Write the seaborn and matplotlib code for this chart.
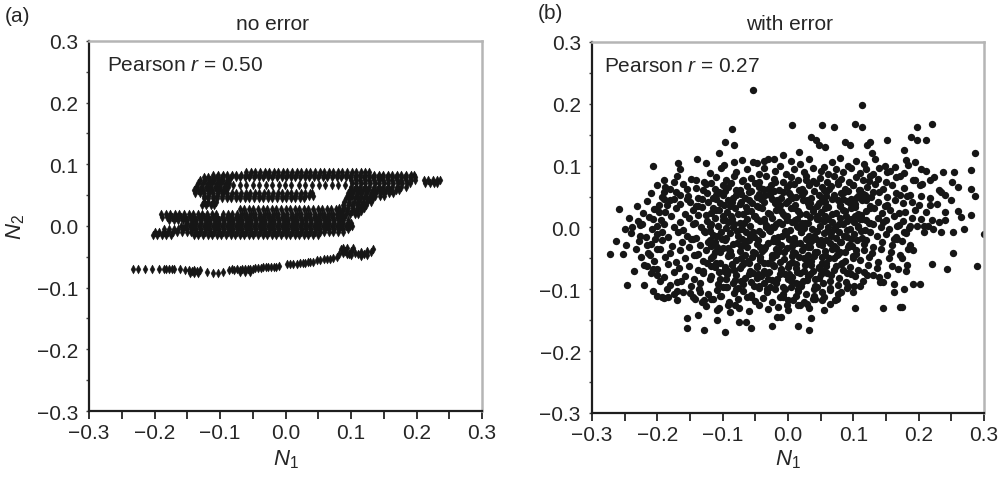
import matplotlib
matplotlib.use("Agg")
import matplotlib.pyplot as plt
import seaborn as sns
import pandas as pd
from matplotlib.ticker import FixedLocator

# ---------------- data (values in thousandths) ----------------
# Panel (a): rows of points (y, [x ...])
A_UPPER_ROWS = [
    (88, [-60, -53, -46, -39, -32, -25, -18, -11, -4, 3, 10, 17, 24, 31, 38, 45, 52, 59, 66, 73, 80, 87, 94, 101, 108, 115, 122, 127]),
    (83, [-110, -103, -96, -89, -82, -75, -68, -61, -54, -47, -40, -33, -26, -19, -12, -5, 2, 9, 16, 23, 30, 37, 44, 51, 58, 65, 72, 79, 86, 93, 100, 107, 114, 121, 128, 135, 142, 149, 156, 163, 170, 177, 184, 191, 196]),
    (79, [-125, -118, -111, -104, -97, -90, -83, -76, -69, -62, -55, -48, -41, -34, -27, -20, -13, -6, 1, 8, 15, 22, 29, 36, 43, 50, 57, 64, 71, 78, 85, 92, 99, 106, 113, 120, 127, 134, 141, 148, 155, 162, 169, 176, 183, 190, 197]),
    (74, [-130, -123, -116, -109, -102, -95, -88, 100, 107, 114, 121, 128, 135, 142, 149, 156, 163, 170, 177, 184, 191, 198, 211, 218, 225, 232, 236]),
    (69, [-133, -126, -119, -112, -105, -98, -91, -86, 101, 108, 115, 122, 129, 136, 143, 150, 157, 164, 171, 178, 185, 190, 213, 220, 227, 232]),
    (66, [-80, -70, -61, -50, -41, -30, -21, -10, -1, 9, 20, 29, 40, 51, 60, 71, 80, 91]),
    (64, [-136, -129, -122, -115, -108, -101, -94, -88, 100, 107, 114, 121, 128, 135, 142, 149, 156, 163, 170, 177, 184]),
    (59, [-140, -133, -126, -119, -112, -105, -98, -91, 98, 105, 112, 119, 126, 133, 140, 147, 154, 161, 168, 174]),
    (54, [-138, -131, -124, -117, -110, -103, -96, -89, -82, -75, -68, -61, -54, -47, -40, -33, -26, -19, -12, -5, 2, 9, 16, 23, 30, 37, 41, 95, 102, 109, 116, 123, 130, 137, 144, 151, 158, 164]),
    (49, [-125, -118, -111, -104, -97, -90, -83, -76, -69, -62, -55, -48, -41, -34, -27, -20, -13, -6, 1, 8, 15, 22, 29, 36, 42, 95, 102, 109, 116, 123, 130, 137, 144, 150]),
    (45, [-125, -118, -111, -104, -97, -90, -83, -76, -69, -62, -55, -48, -41, -34, -27, -20, -13, -6, 1, 8, 15, 22, 28, 92, 99, 106, 113, 120, 127, 134]),
    (39, [-125, -118, -111, -106, 90, 97, 104, 111, 118, 125, 130]),
    (34, [-128, -121, -114, -109, 88, 95, 102, 109, 116, 123]),
    (29, [82, 89, 96, 103, 110, 117, 120]),
    (24, [80, 87, 94, 101, 108, 115]),
    (19, [78, 85, 92, 99, 106, 110]),
]

A_MIDDLE_ROWS = [
    (27, [-70, -63, -56, -49, -42, -35, -28, -21, -14, -7, 0, 7, 14, 21, 28, 35, 42, 49, 56, 63, 70, 77]),
    (20, [-190, -183, -176, -169, -162, -155, -148, -141, -134, -127, -120, -113, -106, -95, -88, -81, -74, -67, -60, -53, -46, -39, -32, -25, -18, -11, -4, 3, 10, 17, 24, 31, 38, 45, 52, 59, 66, 73, 80, 85]),
    (15, [-188, -181, -174, -167, -160, -153, -146, -139, -132, -125, -118, -111, -104, -97, -90, -83, -76, -69, -62, -55, -48, -41, -34, -27, -20, -13, -6, 1, 8, 15, 22, 29, 36, 43, 50, 57, 64, 71, 78, 85, 90]),
    (10, [-178, -171, -164, -157, -150, -143, -136, -129, -122, -115, -108, -101, -94, -87, -80, -73, -66, -59, -52, -45, -38, -31, -24, -17, -10, -3, 4, 11, 18, 25, 32, 39, 46, 53, 60, 67, 74, 81, 88, 95]),
    (5, [-150, -143, -136, -129, -122, -115, -108, -101, -94, -87, -80, -73, -66, -59, -52, -45, -38, -31, -24, -17, -10, -3, 4, 11, 18, 25, 32, 39, 46, 53, 60, 67, 74, 81, 88, 95, 100]),
    (0, [-160, -153, -146, -139, -132, -125, -118, -111, -104, -97, -90, -83, -76, -69, -62, -55, -48, -41, -34, -27, -20, -13, -6, 1, 8, 15, 22, 29, 36, 43, 50, 57, 64, 71, 78, 85, 92, 99, 102]),
    (-5, [-185, -178, -171, -164, -157, -150, -143, -136, -129, -122, -115, -108, -101, -94, -87, -80, -73, -66, -59, -52, -45, -38, -31, -24, -17, -10, -3, 4, 11, 18, 25, 32, 39, 46, 53, 60, 67, 74, 81, 88, 95]),
    (-10, [-200, -193, -186, -179, -172, -165, -158, -151, -144, -137, -130, -123, -116, -109, -102, -95, -88, -81, -74, -67, -60, -53, -46, -39, -32, -25, -18, -11, -4, 3, 10, 17, 24, 31, 38, 45, 52, 59, 66, 73, 80, 88]),
    (-15, [-203, -196, -189, -182, -175, -140, -133, -126, -119, -112, -105, -98, -91, -84, -77, -70, -63, -56, -49, -42, -35, -28, -21, -14, -7, 0, 7, 14, 21, 28, 35, 42, 50]),
]

A_LOWER_POINTS = [
    (-233, -69), (-225, -69), (-214, -70), (-204, -69), (-193, -70), (-186, -69), (-182, -70), (-178, -69),
    (-174, -70), (-170, -69), (-161, -70), (-154, -71), (-147, -72), (-143, -73), (-139, -72), (-135, -73),
    (-131, -72), (-146, -77), (-140, -77), (-134, -77), (-120, -75), (-111, -76), (-103, -76), (-95, -75),
    (-86, -71), (-82, -70), (-78, -71), (-74, -70), (-70, -71), (-66, -70), (-62, -70), (-58, -70), (-54, -69),
    (-50, -70), (-46, -68), (-42, -68), (-38, -68), (-34, -67), (-30, -67), (-26, -67), (-22, -66), (-18, -66),
    (-14, -66), (-10, -65), (-70, -75), (-62, -74), (-54, -74), (2, -62), (7, -62), (12, -62), (17, -61),
    (22, -60), (26, -60), (30, -60), (34, -59), (38, -59), (42, -59), (48, -55), (53, -55), (58, -54), (63, -54),
    (68, -53), (73, -52), (78, -51), (82, -45), (85, -38), (88, -35), (91, -40), (94, -36), (97, -45), (100, -40),
    (103, -36), (106, -44), (110, -46), (115, -42), (120, -46), (125, -40), (130, -42), (134, -38), (88, -44),
    (94, -46), (100, -47), (115, -48), (125, -47),
]

# Panel (b): scattered points (x, y)
B_OUTLIERS = [
    (-54, 223), (114, 198), (7, 165), (52, 165), (70, 162), (103, 167), (114, 162), (221, 167), (197, 162),
    (-86, 159), (-82, 133), (-97, 138), (-105, 120), (-206, 99), (-169, 104), (-139, 110), (151, 141), (188, 146),
    (198, 141), (212, 141), (178, 125), (181, 109), (287, 120), (280, 93), (254, 90), (238, 90), (211, 92),
    (280, 62), (287, 51), (251, 73), (235, 57), (250, 44), (280, 20), (300, -10), (253, -42), (290, -62),
    (244, -67), (221, -59), (241, 25), (252, -7), (235, -7), (221, 12), (217, 36), (-273, -43), (-258, 30),
    (-263, -22), (-253, -43), (-243, 15), (-238, 0), (-231, 35), (-236, -70), (-246, -93), (-221, -93),
    (-226, -13), (-224, 6), (-154, -146), (-154, -162), (-129, -166), (-97, -169), (-57, -163), (-24, -159),
    (15, -160), (32, -165), (35, -146), (-75, -153), (-64, -153), (-17, -144), (-11, -144), (-108, -150),
    (-138, -141), (146, -131), (171, -129), (175, -129), (102, -131), (202, -92), (192, -91), (178, -100),
    (163, -92), (162, -105), (146, -88), (181, -71), (187, -29), (192, -37), (162, -18), (187, 3), (197, 3), (208, 3),
]

B_EDGE = [
    (87, 138), (95, 133), (121, 133), (126, 138), (129, 120), (36, 146), (43, 141), (48, 133), (57, 130),
    (17, 122), (-8, 118), (-22, 111), (-37, 107), (-53, 106), (-82, 106), (-126, 104), (-141, 76), (-155, 63),
    (-175, 74), (-188, 66), (-190, 57), (151, 90), (164, 98), (172, 84), (184, 101), (194, 106), (204, 95),
    (192, 76), (202, 68), (217, 76), (172, 52), (187, 52), (203, 51), (217, 47), (200, 36), (212, 25), (204, 14),
    (179, 25), (167, 3), (177, -7), (208, -7), (222, -2), (232, 9), (167, -18), (184, -34), (174, -50),
    (183, -61), (168, -67), (151, -77), (141, -88), (131, -77), (121, -77), (110, -94), (100, -104), (92, -94),
    (82, -104), (75, -115), (64, -123), (52, -118), (41, -115), (29, -123), (19, -126), (8, -118), (-2, -126),
    (-81, -126), (-88, -137), (-106, -131), (-114, -115), (-129, -118), (-142, -115), (-134, -104), (-160, -104),
    (-170, -102), (-175, -107), (-183, -113), (-193, -113), (-200, -110), (-206, -102), (-170, -88), (-200, -77),
    (-206, -67), (-216, -62), (-211, -45), (-200, -34), (-216, -29), (-203, -18), (-193, -7), (-200, 3),
    (-206, 14), (-198, 25), (-202, 30), (-185, 36), (-190, 46), (-175, 46), (-165, 52), (-155, 46),
]

B_CORE_TOP = [
    (-98, 101), (-71, 109), (-47, 104), (-30, 111), (-12, 99), (5, 107), (19, 102), (33, 110), (55, 98), (68, 106),
    (80, 112), (92, 100), (104, 108), (117, 103), (133, 110), (148, 99),
    (-165, 95), (-120, 88), (-102, 96), (-80, 90), (-62, 94), (-44, 87), (-36, 97), (-20, 91), (-3, 86), (10, 95),
    (24, 89), (38, 97), (50, 92), (62, 86), (73, 95), (85, 90), (97, 97), (110, 88), (120, 94), (131, 87),
    (140, 96), (157, 91), (178, 88),
    (-190, 76), (-170, 83), (-148, 79), (-128, 74), (-110, 82), (-95, 77), (-83, 84), (-70, 75), (-57, 80),
    (-45, 73), (-33, 83), (-21, 78), (-8, 74), (4, 82), (15, 77), (27, 84), (38, 75), (49, 80), (60, 73), (71, 83),
    (82, 78), (93, 74), (104, 82), (115, 76), (126, 84), (138, 79), (150, 73), (166, 81), (195, 77), (224, 82),
    (-200, 69), (-180, 63), (-160, 70), (-140, 64), (-126, 71), (-112, 62), (-99, 68), (-87, 72), (-74, 61),
    (-62, 67), (-50, 72), (-38, 63), (-26, 69), (-14, 60), (-2, 66), (10, 71), (21, 62), (32, 68), (43, 72),
    (55, 61), (66, 67), (77, 71), (88, 63), (99, 69), (110, 60), (121, 66), (133, 71), (146, 62), (160, 68),
    (178, 64), (206, 70), (231, 61), (260, 66),
    (-210, 55), (-192, 49), (-172, 57), (-153, 51), (-137, 48), (-124, 56), (-110, 52), (-97, 59), (-84, 47),
    (-72, 54), (-59, 58), (-47, 49), (-35, 53), (-22, 59), (-10, 48), (1, 55), (13, 50), (24, 58), (35, 47),
    (47, 53), (58, 57), (70, 49), (81, 55), (92, 59), (104, 48), (115, 54), (127, 50), (139, 57), (152, 49),
    (166, 55), (182, 51), (240, 53),
    (-216, 43), (-198, 37), (-180, 44), (-165, 38), (-150, 42), (-137, 35), (-123, 41), (-110, 46), (-98, 36),
    (-85, 42), (-73, 38), (-60, 45), (-48, 35), (-36, 41), (-24, 46), (-12, 37), (0, 43), (11, 36), (23, 44),
    (34, 39), (45, 35), (57, 42), (68, 46), (80, 37), (91, 43), (102, 38), (114, 45), (126, 35), (138, 41),
    (151, 37), (164, 44), (176, 39), (190, 42), (228, 38),
]

B_CORE_MID = [
    (-222, 24), (-205, 30), (-188, 25), (-172, 32), (-158, 22), (-145, 28), (-131, 33), (-118, 23), (-106, 29),
    (-93, 25), (-81, 32), (-68, 22), (-56, 27), (-44, 33), (-31, 24), (-19, 29), (-7, 21), (5, 31), (16, 26),
    (28, 22), (39, 30), (51, 25), (62, 33), (74, 23), (85, 28), (97, 32), (108, 22), (120, 27), (132, 31),
    (144, 24), (157, 29), (170, 23), (195, 28), (260, 26),
    (-230, 11), (-212, 17), (-195, 12), (-179, 18), (-165, 9), (-151, 15), (-137, 20), (-124, 10), (-112, 16),
    (-99, 12), (-87, 19), (-74, 8), (-62, 14), (-50, 19), (-37, 11), (-25, 16), (-13, 9), (-1, 18), (11, 12),
    (22, 8), (34, 17), (45, 13), (57, 19), (68, 9), (80, 15), (91, 11), (103, 18), (114, 13), (126, 8), (138, 16),
    (150, 12), (163, 19), (176, 10), (190, 15), (240, 12), (265, 17),
    (-250, -2), (-226, 4), (-208, -3), (-190, 5), (-175, 0), (-160, -4), (-146, 6), (-133, 1), (-120, -5),
    (-107, 3), (-95, -1), (-82, 6), (-70, -3), (-58, 2), (-45, -6), (-33, 4), (-21, 0), (-9, 6), (3, -4), (14, 2),
    (26, 7), (37, -2), (49, 3), (60, -5), (72, 1), (84, 6), (95, -3), (107, 2), (118, -4), (130, 5), (142, 0),
    (155, -3), (170, 4), (185, -1), (215, 2), (270, -2),
    (-240, -9), (-218, -15), (-200, -10), (-183, -16), (-168, -8), (-154, -13), (-140, -17), (-127, -7),
    (-114, -12), (-101, -18), (-89, -9), (-76, -14), (-64, -7), (-52, -16), (-40, -11), (-27, -6), (-15, -15),
    (-3, -10), (9, -17), (20, -8), (32, -13), (43, -18), (55, -9), (66, -14), (78, -7), (90, -15), (101, -11),
    (113, -17), (125, -8), (137, -13), (150, -10), (165, -16), (180, -9),
    (-248, -28), (-228, -22), (-210, -27), (-193, -21), (-177, -30), (-162, -24), (-148, -19), (-135, -29),
    (-122, -23), (-109, -31), (-97, -20), (-84, -26), (-72, -30), (-60, -21), (-47, -27), (-35, -32), (-23, -22),
    (-11, -28), (1, -19), (12, -25), (24, -31), (35, -22), (47, -27), (58, -20), (70, -30), (82, -24), (93, -29),
    (105, -21), (117, -26), (130, -31), (144, -23), (160, -28), (175, -22),
]

B_CORE_LOW = [
    (-232, -35), (-214, -41), (-196, -34), (-180, -42), (-165, -37), (-151, -32), (-138, -43), (-125, -36),
    (-112, -40), (-99, -33), (-87, -44), (-74, -38), (-62, -32), (-50, -41), (-37, -35), (-25, -44), (-13, -38),
    (-1, -33), (11, -42), (22, -36), (34, -31), (45, -40), (57, -44), (68, -35), (80, -39), (92, -32), (104, -43),
    (116, -37), (128, -41), (142, -34), (158, -39), (172, -44),
    (-225, -48), (-205, -54), (-188, -47), (-172, -56), (-158, -50), (-144, -45), (-130, -55), (-117, -49),
    (-104, -57), (-92, -46), (-79, -52), (-67, -58), (-55, -47), (-42, -53), (-30, -57), (-18, -45), (-6, -51),
    (6, -56), (17, -48), (29, -54), (40, -46), (52, -57), (63, -50), (75, -45), (87, -55), (99, -49), (111, -53),
    (124, -47), (138, -56), (155, -50),
    (-220, -61), (-200, -67), (-183, -59), (-167, -66), (-152, -62), (-138, -69), (-124, -58), (-111, -64),
    (-98, -70), (-85, -60), (-73, -66), (-60, -58), (-48, -63), (-36, -70), (-23, -61), (-11, -67), (1, -59),
    (13, -65), (24, -70), (36, -60), (47, -66), (59, -62), (71, -69), (83, -58), (95, -64), (108, -68), (122, -60),
    (137, -66), (160, -62),
    (-210, -74), (-190, -80), (-174, -72), (-158, -79), (-144, -83), (-130, -73), (-117, -78), (-104, -84),
    (-91, -71), (-79, -77), (-66, -82), (-54, -74), (-41, -79), (-29, -72), (-17, -83), (-5, -76), (7, -80),
    (18, -73), (30, -78), (42, -84), (54, -71), (66, -77), (78, -81), (90, -74), (103, -79), (117, -72), (140, -80),
    (-196, -87), (-180, -93), (-163, -86), (-148, -95), (-134, -89), (-120, -84), (-107, -92), (-94, -96),
    (-81, -85), (-69, -91), (-56, -88), (-44, -95), (-31, -84), (-19, -90), (-7, -96), (5, -87), (17, -92),
    (29, -85), (41, -94), (53, -89), (65, -86), (77, -93), (89, -88), (101, -95), (115, -87),
    (-185, -100), (-150, -106), (-136, -99), (-122, -108), (-108, -101), (-95, -97), (-82, -106), (-69, -102),
    (-57, -109), (-44, -98), (-32, -104), (-20, -100), (-8, -108), (4, -97), (16, -103), (28, -107), (40, -99),
    (52, -105), (64, -101), (76, -108), (90, -98),
    (-190, -114), (-170, -118), (-146, -112), (-131, -120), (-117, -115), (-103, -111), (-90, -121), (-76, -116),
    (-63, -112), (-50, -119), (-38, -114), (-25, -121), (-12, -113), (0, -117), (12, -111), (25, -120), (38, -115),
    (55, -112), (72, -118),
    (-125, -127), (-108, -133), (-92, -125), (-75, -131), (-60, -135), (-45, -126), (-30, -132), (-15, -128),
    (0, -134), (16, -126), (33, -130), (55, -133),
]

B_CORE_FILL = [
    (-115, 47), (-92, 45), (-66, 48), (-41, 46), (-17, 44), (7, 47), (29, 45), (52, 48), (76, 44), (97, 46), (120, 45),
    (-125, 20), (-100, 18), (-77, 22), (-52, 19), (-28, 21), (-4, 18), (19, 22), (44, 19), (67, 21), (89, 18), (112, 20),
    (-128, -6), (-102, -8), (-78, -5), (-53, -7), (-29, -4), (-5, -6), (20, -8), (44, -5), (66, -7), (90, -4), (112, -6),
    (-118, -30), (-92, -33), (-67, -29), (-43, -31), (-19, -34), (6, -30), (30, -32), (52, -29), (74, -33), (98, -30),
    (-110, -57), (-86, -59), (-61, -55), (-37, -58), (-12, -56), (12, -59), (35, -55), (58, -57), (81, -59),
    (-95, -83), (-72, -86), (-48, -82), (-24, -85), (0, -83), (23, -86), (47, -82),
]

B_CORE_FILL2 = [
    (-130, 60), (-105, 58), (-80, 61), (-56, 59), (-31, 62), (-7, 58), (17, 61), (40, 59), (63, 62), (86, 58), (109, 61), (130, 58),
    (-140, 34), (-114, 32), (-89, 35), (-64, 33), (-40, 31), (-15, 35), (10, 32), (33, 34), (57, 31), (80, 35), (103, 33), (125, 31), (148, 34),
    (-142, 8), (-117, 6), (-92, 9), (-67, 7), (-42, 10), (-18, 6), (6, 9), (31, 7), (55, 10), (78, 6), (101, 9), (124, 7), (146, 9),
    (-145, -18), (-120, -20), (-95, -17), (-70, -19), (-46, -21), (-21, -17), (4, -20), (28, -18), (50, -21), (74, -17), (96, -19), (120, -20),
    (-140, -44), (-114, -46), (-90, -43), (-66, -45), (-42, -47), (-18, -43), (6, -46), (30, -44), (52, -47), (76, -43), (100, -46),
    (-130, -70), (-106, -72), (-82, -69), (-58, -71), (-34, -73), (-10, -69), (14, -72), (38, -70), (60, -73), (84, -69),
    (-100, -96), (-76, -98), (-52, -95), (-28, -97), (-4, -99), (20, -95), (44, -97),
]

B_CORE_FILL3 = [
    (-104, 40), (-80, 52), (-55, 40), (-28, 52), (-3, 40), (22, 52), (47, 40), (70, 53), (95, 40), (118, 52),
    (-110, 28), (-86, 13), (-62, 27), (-36, 13), (-11, 27), (14, 14), (39, 27), (62, 14), (87, 27), (110, 13),
    (-108, -14), (-84, 0), (-58, -14), (-34, 0), (-9, -13), (16, 1), (40, -14), (62, 0), (86, -13), (108, 0),
    (-104, -39), (-78, -25), (-54, -39), (-30, -25), (-6, -39), (18, -25), (42, -39), (64, -25), (88, -39),
    (-96, -64), (-72, -50), (-48, -64), (-24, -50), (0, -64), (24, -50), (48, -64), (70, -50),
    (-84, -90), (-60, -76), (-36, -90), (-12, -76), (12, -90), (34, -76),
]

B_CORE_FILL4 = [
    (-118, 72), (-92, 66), (-68, 76), (-44, 66), (-20, 74), (3, 70), (28, 76), (52, 66), (76, 74), (100, 68), (124, 75),
    (-132, 46), (-100, 52), (-72, 41), (-45, 54), (-20, 40), (5, 51), (30, 40), (58, 51), (84, 46), (108, 51),
    (-120, 2), (-96, 12), (-72, -2), (-48, 14), (-24, 1), (-1, 12), (24, -1), (48, 14), (72, -3), (96, 14), (120, 12),
    (-112, -24), (-88, -38), (-64, -22), (-40, -38), (-16, -24), (8, -40), (32, -26), (56, -38), (80, -24), (104, -36),
    (-118, -62), (-94, -76), (-70, -60), (-46, -76), (-22, -62), (2, -76), (26, -60), (50, -76), (74, -62), (96, -76),
    (-104, -110), (-80, -100), (-56, -112), (-32, -100), (-8, -112), (16, -100), (40, -110), (64, -98),
]

TICKS = [-0.3, -0.2, -0.1, 0.0, 0.1, 0.2, 0.3]
TICK_LABELS = ["\u22120.3", "\u22120.2", "\u22120.1", "0.0", "0.1", "0.2", "0.3"]
MINOR_TICKS = [-0.25, -0.15, -0.05, 0.05, 0.15, 0.25]
PANEL_TITLES = ["no error", "with error"]
PANEL_TAGS = ["(a)", "(b)"]
PEARSON = ["0.50", "0.27"]

# ---------------- build frames ----------------
def rows_frame(rows):
    xs, ys = [], []
    for y, xlist in rows:
        xs.extend(v / 1000 for v in xlist)
        ys.extend([y / 1000] * len(xlist))
    return xs, ys

ax_u, ay_u = rows_frame(A_UPPER_ROWS)
ax_m, ay_m = rows_frame(A_MIDDLE_ROWS)
df_a = pd.DataFrame({
    "N1": ax_u + ax_m + [p[0] / 1000 for p in A_LOWER_POINTS],
    "N2": ay_u + ay_m + [p[1] / 1000 for p in A_LOWER_POINTS],
})
b_pts = (B_OUTLIERS + B_EDGE + B_CORE_TOP + B_CORE_MID + B_CORE_LOW
         + B_CORE_FILL + B_CORE_FILL2 + B_CORE_FILL3 + B_CORE_FILL4)
df_b = pd.DataFrame({"N1": [p[0] / 1000 for p in b_pts], "N2": [p[1] / 1000 for p in b_pts]})

# ---------------- style ----------------
sns.set_style("white")
plt.rcParams["font.family"] = ["Liberation Sans", "DejaVu Sans"]
plt.rcParams["mathtext.fontset"] = "custom"
plt.rcParams["mathtext.rm"] = "Liberation Sans"
plt.rcParams["mathtext.it"] = "Liberation Sans:italic"
plt.rcParams["mathtext.bf"] = "Liberation Sans:bold"

FS = 15
INK = "#161616"
SLIM_DIAMOND = [(0, 1), (0.55, 0), (0, -1), (-0.55, 0), (0, 1)]

fig = plt.figure(figsize=(10.05, 4.85), dpi=100)
ax1 = fig.add_axes([0.0886, 0.1505, 0.391, 0.763])
ax2 = fig.add_axes([0.589, 0.1464, 0.390, 0.765])

sns.scatterplot(data=df_a, x="N1", y="N2", ax=ax1, marker=SLIM_DIAMOND, s=42, color=INK,
                linewidth=0.3, edgecolor=INK, legend=False)
sns.scatterplot(data=df_b, x="N1", y="N2", ax=ax2, marker="o", s=28, color=INK,
                linewidth=0, legend=False)

for i, ax in enumerate([ax1, ax2]):
    ax.set_xlim(-0.3, 0.3)
    ax.set_ylim(-0.3, 0.3)
    ax.set_xlabel("")
    ax.set_ylabel("")
    ax.xaxis.set_major_locator(FixedLocator(TICKS))
    ax.yaxis.set_major_locator(FixedLocator(TICKS))
    ax.xaxis.set_minor_locator(FixedLocator(MINOR_TICKS))
    ax.yaxis.set_minor_locator(FixedLocator(MINOR_TICKS))
    ax.set_xticklabels(TICK_LABELS)
    ax.set_yticklabels(TICK_LABELS)
    ax.tick_params(axis="x", which="both", direction="out", length=5.5, width=1.3,
                   color="#222222", labelsize=FS, pad=3, bottom=True)
    ax.tick_params(axis="y", which="both", direction="out", length=2, width=1.0,
                   color="#444444", labelsize=FS, pad=6, left=True)
    for side in ["left", "bottom"]:
        ax.spines[side].set_color("#1e1e1e")
        ax.spines[side].set_linewidth(1.6)
    for side in ["top", "right"]:
        ax.spines[side].set_color("#b5b5b5")
        ax.spines[side].set_linewidth(1.8)
    ax.text(0.046 if i == 0 else 0.031, 0.937, "Pearson $r$ = " + PEARSON[i],
            transform=ax.transAxes, ha="left", va="center", fontsize=FS)

fig.text(0.2716, 0.9505, PANEL_TITLES[0], ha="center", va="center", fontsize=FS)
fig.text(0.786, 0.9505, PANEL_TITLES[1], ha="center", va="center", fontsize=FS)
fig.text(5 / 1005, 1 - 7 / 485, PANEL_TAGS[0], ha="left", va="top", fontsize=FS)
fig.text(538 / 1005, 1 - 4 / 485, PANEL_TAGS[1], ha="left", va="top", fontsize=FS)

fig.text((89 + 482) / 2 / 1005, 1 - 460 / 485, "$N_1$", ha="center", va="center", fontsize=FS + 1)
fig.text((592 + 984) / 2 / 1005, 1 - 460 / 485, "$N_1$", ha="center", va="center", fontsize=FS + 1)
fig.text(16 / 1005, 1 - 227 / 485, "$N_2$", ha="center", va="center", rotation=90, fontsize=FS + 1)

fig.savefig("out.png", dpi=100, facecolor="white")
